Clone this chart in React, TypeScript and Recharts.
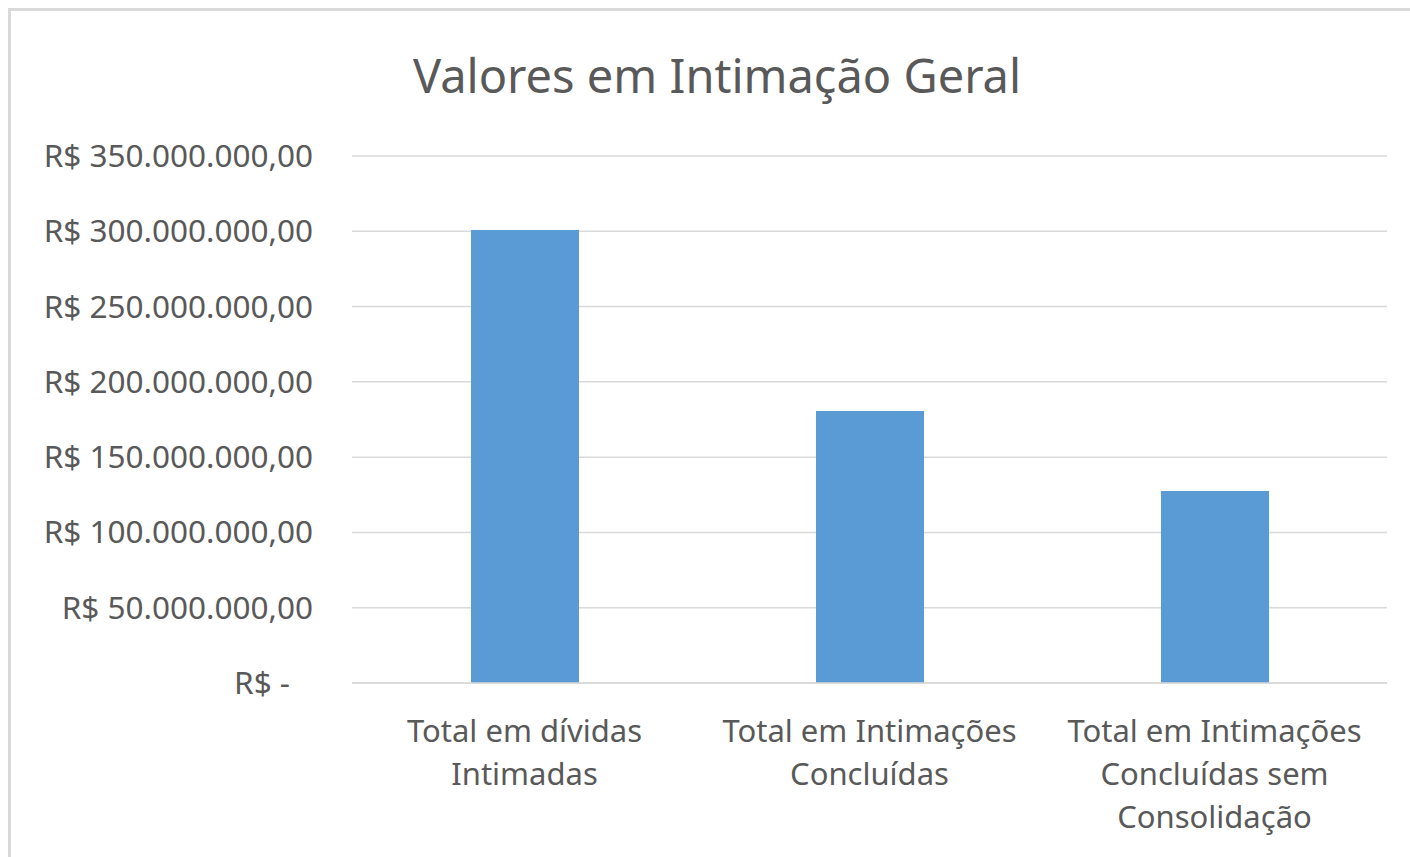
import React from 'react';
import { BarChart, Bar, XAxis, YAxis, CartesianGrid } from 'recharts';

const categories = [
  'Total em dívidas Intimadas',
  'Total em Intimações Concluídas',
  'Total em Intimações Concluídas sem Consolidação',
];
// how each category label breaks into lines under the axis
const categoryLines = [
  ['Total em dívidas', 'Intimadas'],
  ['Total em Intimações', 'Concluídas'],
  ['Total em Intimações', 'Concluídas sem', 'Consolidação'],
];
const values = [300900000, 180600000, 127500000];
const yTicks = [0, 50000000, 100000000, 150000000, 200000000, 250000000, 300000000, 350000000];

const FONT = '"Noto Sans", "Open Sans", sans-serif';
const TEXT = '#595959';

const chartData = categories.map((name, i) => ({ name, value: values[i] }));

const formatBRL = (v: number) => {
  const int = Math.round(v).toString().replace(/\B(?=(\d{3})+(?!\d))/g, '.');
  return `R$ ${int},00`;
};

const YTick = (props: any) => {
  const { x, y, payload } = props;
  const isZero = payload.value === 0;
  return (
    <text
      x={isZero ? x - 23 : x}
      y={y}
      dy={11}
      textAnchor="end"
      fill={TEXT}
      fontSize={31.5}
      fontFamily={FONT}
    >
      {isZero ? 'R$ -' : formatBRL(payload.value)}
    </text>
  );
};

const XTick = (props: any) => {
  const { x, y, index } = props;
  const lines = categoryLines[index] || [];
  return (
    <text x={x} y={y} textAnchor="middle" fill={TEXT} fontSize={31} fontFamily={FONT}>
      {lines.map((l, i) => (
        <tspan key={i} x={x} dy={i === 0 ? 51 : 43}>
          {l}
        </tspan>
      ))}
    </text>
  );
};

const App: React.FC = () => {
  return (
    <div
      style={{
        position: 'absolute',
        left: 0,
        top: 0,
        width: 1410,
        height: 857,
        overflow: 'hidden',
        background: '#fff',
      }}
    >
      <div
        style={{
          position: 'absolute',
          left: 8,
          top: 8,
          width: 1420,
          height: 870,
          border: '3px solid #D9D9D9',
          boxSizing: 'border-box',
        }}
      />
      <div
        style={{
          position: 'absolute',
          left: 0,
          top: 43,
          width: 1434,
          textAlign: 'center',
          fontFamily: FONT,
          fontSize: 47,
          color: TEXT,
          lineHeight: '64px',
        }}
      >
        Valores em Intimação Geral
      </div>
      <div style={{ position: 'absolute', left: 0, top: 0 }}>
        <BarChart
          width={1410}
          height={857}
          data={chartData}
          margin={{ top: 156, right: 23, bottom: 0, left: 0 }}
          barCategoryGap={0}
        >
          <CartesianGrid vertical={false} stroke="#D9D9D9" strokeWidth={1.5} />
          <XAxis
            dataKey="name"
            height={174}
            axisLine={{ stroke: '#D9D9D9', strokeWidth: 1.5 }}
            tickLine={false}
            tick={<XTick />}
            interval={0}
          />
          <YAxis
            width={352}
            domain={[0, 350000000]}
            ticks={yTicks}
            axisLine={false}
            tickLine={false}
            tickSize={0}
            tickMargin={39}
            tick={<YTick />}
            interval={0}
          />
          <Bar dataKey="value" fill="#5B9BD5" barSize={108} isAnimationActive={false} />
        </BarChart>
      </div>
    </div>
  );
};

export default App;
